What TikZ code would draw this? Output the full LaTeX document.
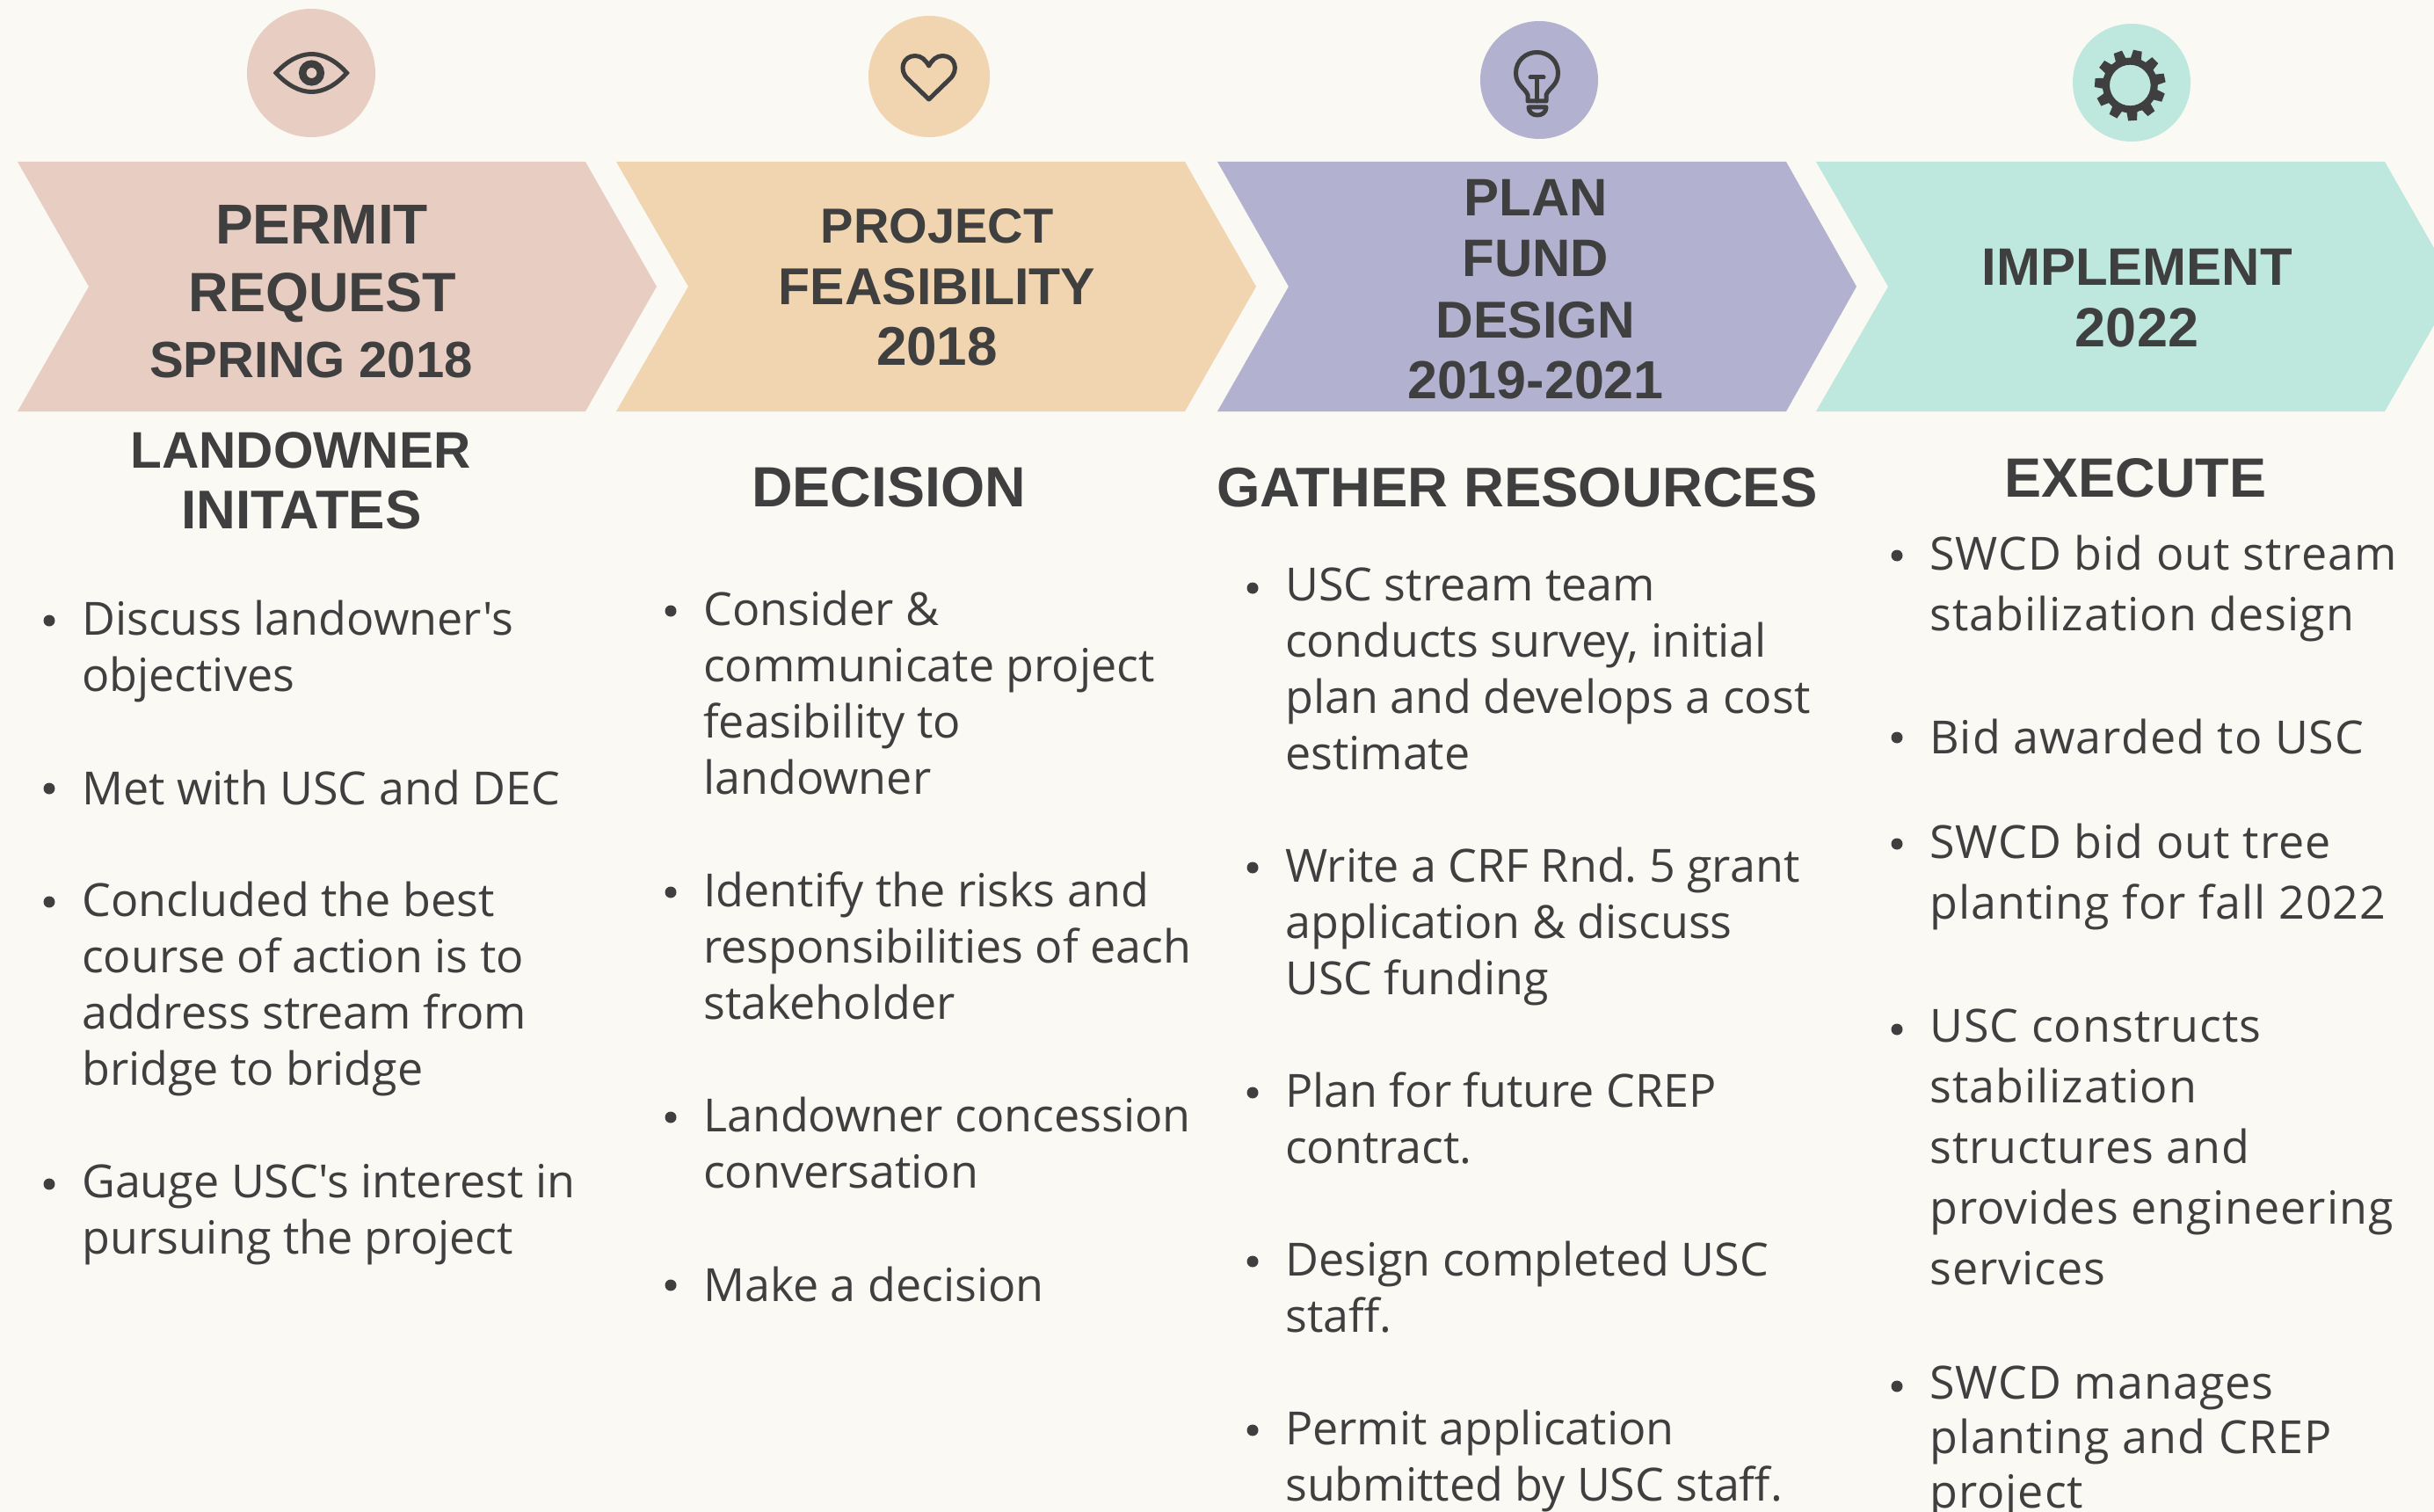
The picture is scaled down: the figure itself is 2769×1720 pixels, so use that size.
\documentclass[tikz,border=0pt]{standalone}
\usepackage{fontspec}
\setmainfont{Open Sans}[Ligatures=TeXOff]
\newfontfamily\headfont{Liberation Sans}[Ligatures=TeXOff]
\newfontfamily\widefont{Open Sans}[Ligatures=TeXOff,LetterSpace=2]
\definecolor{paper}{HTML}{FAF9F4}
\definecolor{ink}{HTML}{3F3F3F}
\definecolor{rosec}{HTML}{E8CDC2}
\definecolor{sandc}{HTML}{F0D5B0}
\definecolor{lilac}{HTML}{B2B1CF}
\definecolor{mint}{HTML}{BEE7DD}
\tikzset{
 x=1pt,y=-1pt,
 chev/.style={fill=#1,draw=none},
 disc/.style={circle,fill=#1,draw=none,inner sep=0pt},
 band/.style={font=\headfont\fontsize{#1}{#1}\selectfont\bfseries,text=ink,inner sep=0pt,anchor=base},
 bodytxt/.style={font=\fontsize{52}{64}\selectfont\frenchspacing,text=ink,align=left,inner sep=0pt,anchor=north west,execute at begin node=\rule{0pt}{41pt}},
 widetxt/.style={font=\widefont\fontsize{52}{#1}\selectfont\frenchspacing,text=ink,align=left,inner sep=0pt,anchor=north west,execute at begin node=\rule{0pt}{41pt}},
 dot/.style={circle,fill=ink,inner sep=0pt,minimum size=13pt},
 icon/.style={draw=ink,line width=5pt,line join=round,line cap=round},
}
\newcommand{\bul}[5][bodytxt]{\node[dot] (d#2) at (#3-37,#4-18) {}; \node[#1] (t#2) at (#3,#4-41) {#5};}
\begin{document}
\begin{tikzpicture}
\useasboundingbox (0,0) rectangle (2769,1720);
\fill[paper] (0,0) rectangle (2769,1720);
\fill[chev=rosec] (20,184)--(666,184)--(747,326)--(666,468)--(20,468)--(101,326)--cycle;
\fill[chev=sandc] (701,184)--(1348,184)--(1429,326)--(1348,468)--(701,468)--(783,326)--cycle;
\fill[chev=lilac] (1385,184)--(2032,184)--(2112,326)--(2032,468)--(1385,468)--(1466,326)--cycle;
\fill[chev=mint] (2066,184)--(2713,184)--(2794,326)--(2713,468)--(2066,468)--(2148,326)--cycle;
\node[disc=rosec,minimum size=146pt] (c1) at (354,83) {};
\node[disc=sandc,minimum size=138pt] (c2) at (1057,87) {};
\node[disc=lilac,minimum size=134pt] (c3) at (1751,91) {};
\node[disc=mint,minimum size=134pt] (c4) at (2425,94) {};
% eye
\draw[icon,line join=miter,line cap=butt] (314,83) .. controls (326,70) and (340,61.5) .. (354.5,61.5) .. controls (369,61.5) and (383,70) .. (394.5,83) .. controls (383,96) and (369,104.5) .. (354.5,104.5) .. controls (340,104.5) and (326,96) .. cycle;
\draw[ink,line width=8.5pt] (354.5,83) circle (10.3);
% heart
\draw[icon] (1056.7,113) -- (1033,90) .. controls (1022,80) and (1027,63.5) .. (1041,63.5) .. controls (1048,63.5) and (1053,68) .. (1056.7,75) .. controls (1060.4,68) and (1065.4,63.5) .. (1072.4,63.5) .. controls (1086.4,63.5) and (1091.4,80) .. (1080.4,90) -- cycle;
% bulb
\draw[icon] (1738,115) -- (1738,108) .. controls (1735,100) and (1724.5,97) .. (1724.5,83) .. controls (1724.5,69.7) and (1735,59.5) .. (1748.5,59.5) .. controls (1762,59.5) and (1772.5,69.7) .. (1772.5,83) .. controls (1772.5,97) and (1762,100) .. (1759,108) -- (1759,115) -- cycle;
\draw[icon] (1741,88) -- (1756,88) (1748.5,88) -- (1748.5,115);
\draw[icon] (1739,122) -- (1759,122) .. controls (1759,128) and (1754,131) .. (1749,131) .. controls (1744,131) and (1739,128) .. cycle;
% gear
\fill[ink,even odd rule,shift={(2423.3,97)}] (70.5:31) \foreach \i in {0,...,10}{ -- ({86+\i*32.727-11}:31.5) -- ({86+\i*32.727-7}:40.5) -- ({86+\i*32.727+7}:40.5) -- ({86+\i*32.727+11}:31.5)} -- cycle (0,0) circle (23.3);
% headings
\node[band=64] (h1a) at (366,277.5) {PERMIT};
\node[band=63] (h1b) at (367,355) {REQUEST};
\node[band=58] (h1c) at (354,429) {SPRING 2018};
\node[band=56] (h2a) at (1066,277) {PROJECT};
\node[band=59] (h2b) at (1066,346) {FEASIBILITY};
\node[band=62] (h2c) at (1066,415.5) {2018};
\node[band=60] (h3a) at (1747,246) {PLAN};
\node[band=60] (h3b) at (1747,315) {FUND};
\node[band=59] (h3c) at (1747,384.5) {DESIGN};
\node[band=61] (h3d) at (1747,453) {2019-2021};
\node[band=60] (h4a) at (2431,324.5) {IMPLEMENT};
\node[band=63] (h4b) at (2431,394) {2022};
\node[band=58.5] (s1a) at (342,532) {LANDOWNER};
\node[band=62] (s1b) at (343,601) {INITATES};
\node[band=64.5] (s2) at (1011,576) {DECISION};
\node[band=63.5] (s3) at (1726,576) {GATHER RESOURCES};
\node[band=63] (s4) at (2429.5,565) {EXECUTE};
% column 1
\bul{a}{93}{724}{Discuss landowner's\\objectives}
\bul{b}{93}{915}{Met with USC and DEC}
\bul{c}{93}{1044}{Concluded the best\\course of action is to\\address stream from\\bridge to bridge}
\bul{d}{93}{1365}{Gauge USC's interest in\\pursuing the project}
% column 2
\bul{e}{800}{713}{Consider \&\\communicate project\\feasibility to\\landowner}
\bul{f}{800}{1033}{Identify the risks and\\responsibilities of each\\stakeholder}
\bul{g}{800}{1289}{Landowner concession\\conversation}
\bul{h}{800}{1480}{Make a decision}
% column 3
\bul{i}{1462}{687}{USC stream team\\conducts survey, initial\\plan and develops a cost\\estimate}
\bul{j}{1462}{1005}{Write a CRF Rnd. 5 grant\\application \& discuss\\USC funding}
\bul{k}{1462}{1261}{Plan for future CREP\\contract.}
\bul{l}{1462}{1453}{Design completed USC\\staff.}
\bul{m}{1462}{1645}{Permit application\\submitted by USC staff.}
% column 4
\bul[widetxt=69]{n}{2195}{650}{SWCD bid out stream\\stabilization design}
\bul[widetxt=69]{o}{2195}{857}{Bid awarded to USC}
\bul[widetxt=69]{p}{2195}{978}{SWCD bid out tree\\planting for fall 2022}
\bul[widetxt=69]{q}{2195}{1189}{USC constructs\\stabilization\\structures and\\provides engineering\\services}
\bul[widetxt=62]{r}{2195}{1595}{SWCD manages\\planting and CREP\\project}
\end{tikzpicture}
\end{document}
